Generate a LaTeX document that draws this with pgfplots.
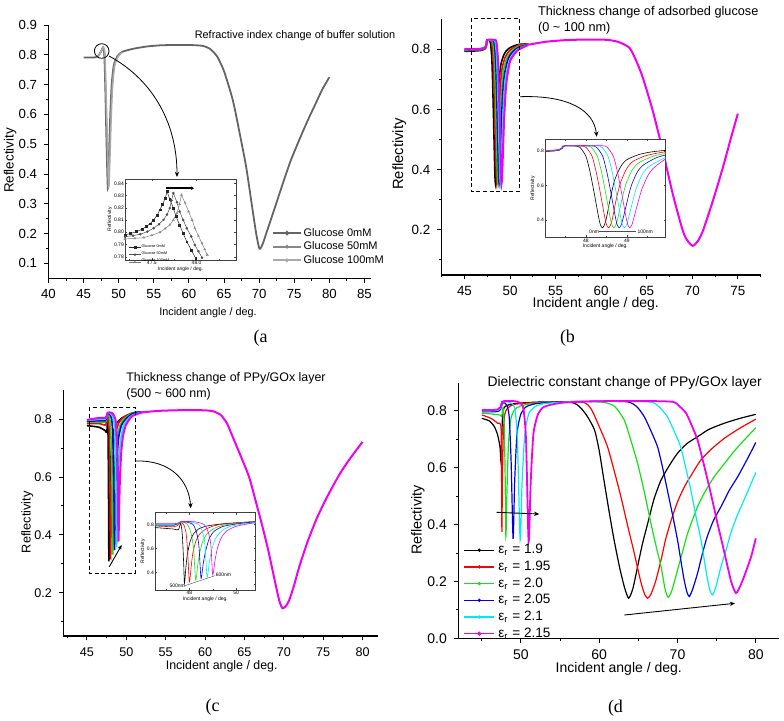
\documentclass[border=0pt]{standalone}
\usepackage{fontspec}
\setmainfont{Liberation Sans}
\newfontfamily\serifont{Liberation Serif}
\usepackage{pgfplots}
\usepackage{pgfplotstable}
\pgfplotsset{compat=1.18}
\usetikzlibrary{arrows.meta}

\definecolor{cK}{RGB}{0,0,0}
\definecolor{cR}{RGB}{255,0,0}
\definecolor{cG}{RGB}{20,225,20}
\definecolor{cB}{RGB}{0,0,225}
\definecolor{cC}{RGB}{0,235,235}
\definecolor{cM}{RGB}{240,0,240}
\definecolor{g0}{RGB}{100,100,100}
\definecolor{g1}{RGB}{135,135,135}
\definecolor{g2}{RGB}{170,170,170}

\pgfplotsset{
  /pgf/number format/assume math mode=true,
  panel/.style={
    scale only axis, anchor=south west,
    axis x line*=bottom, axis y line*=left,
    tick align=outside,
    major tick length=2.2pt, minor tick length=1.2pt,
    tick style={black, line width=0.5pt},
    axis line style={black, line width=0.6pt},
    every axis plot/.append style={smooth, tension=0.4},
    yticklabel style={/pgf/number format/.cd, fixed, fixed zerofill, precision=1},
  },
  smallinset/.style={
    scale only axis, anchor=south west,
    axis background/.style={fill=white},
    axis line style={line width=0.25pt, black!75},
    tick style={line width=0.2pt, black!75},
    major tick length=1pt, minor tick length=0.6pt,
    tick label style={font=\fontsize{2.5}{3}\selectfont, inner sep=0.4pt},
    label style={font=\fontsize{2.5}{3}\selectfont, inner sep=0.3pt},
  },
}

% ---------- panel (a) ----------
\pgfplotstableread{
x y
45 0.791
46 0.791
46.8 0.792
47.2 0.80
47.5 0.812
47.75 0.824
47.95 0.80
48.1 0.68
48.25 0.52
48.45 0.352
48.6 0.45
48.8 0.60
49.0 0.70
49.3 0.765
49.8 0.795
50.5 0.81
52 0.82
54 0.828
56 0.832
58 0.833
60 0.833
61 0.832
62 0.83
63 0.82
64 0.795
65 0.745
66.25 0.648
67.2 0.54
68.15 0.424
69 0.29
69.58 0.2
70.05 0.149
70.5 0.165
71 0.2
72 0.27
73.37 0.368
74.5 0.445
75.74 0.516
77 0.584
78.12 0.64
79 0.684
80 0.725
}\aZero
\pgfplotstableread{
x y
46.8 0.792
47.2 0.80
47.5 0.812
47.8 0.825
48.0 0.80
48.15 0.68
48.32 0.52
48.52 0.355
48.68 0.45
48.88 0.60
49.08 0.70
49.38 0.765
49.88 0.795
50.5 0.809
}\aFifty
\pgfplotstableread{
x y
46.8 0.792
47.2 0.80
47.5 0.812
47.85 0.826
48.05 0.80
48.2 0.68
48.38 0.52
48.58 0.358
48.75 0.45
48.95 0.60
49.15 0.70
49.45 0.765
49.95 0.795
50.5 0.808
}\aHundred
\pgfplotstableread{
x y
47.2 0.7978
47.26 0.799
47.33 0.8005
47.39 0.8025
47.44 0.8046
47.48 0.807
47.52 0.8101
47.56 0.814
47.59 0.8183
47.62 0.823
47.65 0.8279
47.67 0.8333
47.70 0.827
47.74 0.8197
47.77 0.813
47.81 0.806
47.85 0.799
47.89 0.7923
47.94 0.7855
47.99 0.7787
}\iaZero
\pgfplotstableread{
x y
47.2 0.7964
47.29 0.7972
47.37 0.7984
47.45 0.8005
47.52 0.8033
47.58 0.8065
47.63 0.8101
47.67 0.8145
47.70 0.8197
47.72 0.826
47.74 0.832
47.78 0.8245
47.81 0.8169
47.85 0.810
47.89 0.8033
47.94 0.7965
47.98 0.7896
48.02 0.7845
48.06 0.7792
}\iaFifty
\pgfplotstableread{
x y
47.2 0.7945
47.31 0.795
47.41 0.7956
47.5 0.7975
47.59 0.80
47.65 0.803
47.70 0.806
47.74 0.810
47.78 0.8156
47.81 0.823
47.83 0.8306
47.87 0.824
47.91 0.8169
47.95 0.810
47.98 0.8033
48.02 0.797
48.06 0.791
48.09 0.786
48.12 0.7814
}\iaHundred

% ---------- panel (b) ----------
\pgfplotstableread{
x y
45 0.793
46 0.794
46.8 0.796
47.2 0.80
47.35 0.805
47.42 0.815
47.48 0.83
47.7 0.83
47.85 0.822
48.0 0.77
48.1 0.68
48.2 0.56
48.3 0.43
48.35 0.375
48.4 0.355
48.45 0.37
48.5 0.41
48.6 0.53
48.7 0.63
48.85 0.71
49.0 0.75
49.3 0.78
49.6 0.795
50 0.805
50.5 0.812
51 0.816
52 0.818
}\bK
\pgfplotstableread{
x y
45 0.795
46 0.796
46.8 0.798
47.2 0.801
47.35 0.806
47.42 0.816
47.48 0.83
47.85 0.83
48.0 0.822
48.15 0.77
48.25 0.68
48.35 0.56
48.45 0.43
48.5 0.375
48.55 0.355
48.6 0.37
48.65 0.41
48.75 0.53
48.85 0.62
49.0 0.70
49.15 0.74
49.45 0.772
49.75 0.788
50 0.797
50.5 0.807
51 0.814
52 0.818
}\bR
\pgfplotstableread{
x y
45 0.796
46 0.797
46.8 0.799
47.2 0.802
47.35 0.807
47.42 0.817
47.48 0.83
47.98 0.83
48.13 0.822
48.28 0.77
48.38 0.68
48.48 0.56
48.58 0.43
48.63 0.375
48.68 0.355
48.73 0.37
48.78 0.41
48.88 0.52
48.98 0.61
49.13 0.69
49.28 0.73
49.58 0.765
49.88 0.783
50.5 0.802
51 0.81
52 0.817
}\bG
\pgfplotstableread{
x y
45 0.797
46 0.798
46.8 0.80
47.2 0.803
47.35 0.808
47.42 0.818
47.48 0.83
48.11 0.83
48.26 0.822
48.41 0.77
48.51 0.68
48.61 0.56
48.71 0.43
48.76 0.375
48.81 0.355
48.86 0.37
48.91 0.41
49.01 0.51
49.11 0.60
49.26 0.68
49.41 0.72
49.71 0.76
50 0.78
50.5 0.797
51 0.807
52 0.816
}\bB
\pgfplotstableread{
x y
45 0.798
46 0.799
46.8 0.801
47.2 0.804
47.35 0.809
47.42 0.819
47.48 0.83
48.24 0.83
48.39 0.822
48.54 0.77
48.64 0.68
48.74 0.56
48.84 0.43
48.89 0.375
48.94 0.355
48.99 0.37
49.04 0.41
49.14 0.505
49.24 0.59
49.39 0.67
49.54 0.71
49.84 0.75
50 0.765
50.5 0.79
51 0.803
52 0.815
}\bC
\pgfplotstableread{
x y
45 0.80
46 0.80
46.8 0.802
47.2 0.805
47.35 0.81
47.42 0.82
47.48 0.831
48.37 0.831
48.52 0.822
48.67 0.77
48.77 0.68
48.87 0.56
48.97 0.43
49.02 0.375
49.07 0.355
49.12 0.37
49.17 0.41
49.27 0.50
49.37 0.58
49.52 0.66
49.67 0.705
50 0.76
50.5 0.785
51 0.80
52 0.814
}\bM
\pgfplotstableread{
x y
52 0.815
54 0.825
56 0.83
58 0.832
60 0.832
61 0.83
62 0.823
63.1 0.805
63.8 0.765
64.57 0.706
65.67 0.595
66.77 0.462
67.87 0.318
68.97 0.196
69.5 0.163
70.06 0.147
70.6 0.162
71.16 0.196
72.26 0.296
73.36 0.407
74.2 0.5
75 0.586
}\bTail

% ---------- panel (c) ----------
\pgfplotstableread{
x y
45 0.778
46 0.775
46.6 0.772
47.31 0.761
47.53 0.755
47.63 0.808
47.7 0.711
47.76 0.461
47.79 0.308
47.85 0.433
47.91 0.544
48.03 0.655
48.17 0.717
48.39 0.761
48.75 0.786
49.46 0.805
50.81 0.822
52 0.826
}\cK
\pgfplotstableread{
x y
45 0.785
46.6 0.785
47.3 0.78
47.5 0.79
47.63 0.815
47.75 0.80
47.85 0.74
47.92 0.6
48.0 0.32
48.08 0.45
48.15 0.56
48.28 0.66
48.45 0.72
48.7 0.76
49.1 0.79
49.7 0.808
50.81 0.822
52 0.826
}\cR
\pgfplotstableread{
x y
45 0.79
46.6 0.79
47.3 0.79
47.5 0.80
47.63 0.818
47.8 0.815
47.95 0.79
48.08 0.72
48.18 0.6
48.27 0.335
48.36 0.46
48.45 0.57
48.6 0.67
48.8 0.73
49.1 0.77
49.5 0.795
50.1 0.81
50.81 0.822
52 0.826
}\cG
\pgfplotstableread{
x y
45 0.793
46.6 0.795
47.3 0.795
47.5 0.805
47.63 0.82
47.9 0.818
48.15 0.80
48.3 0.74
48.41 0.62
48.5 0.35
48.6 0.48
48.7 0.58
48.85 0.68
49.05 0.74
49.4 0.78
49.9 0.80
50.81 0.82
52 0.826
}\cB
\pgfplotstableread{
x y
45 0.796
46.6 0.80
47.3 0.80
47.5 0.808
47.63 0.822
48.0 0.82
48.4 0.80
48.56 0.74
48.67 0.63
48.76 0.36
48.86 0.49
48.96 0.59
49.12 0.68
49.35 0.74
49.7 0.78
50.2 0.80
50.81 0.815
52 0.825
}\cC
\pgfplotstableread{
x y
45 0.798
46.6 0.805
47.3 0.805
47.5 0.81
47.63 0.823
48.2 0.822
48.62 0.80
48.8 0.74
48.92 0.63
49.0 0.38
49.1 0.5
49.2 0.6
49.37 0.69
49.6 0.745
49.95 0.78
50.4 0.80
50.81 0.812
52 0.824
}\cM
\pgfplotstableread{
x y
52 0.824
54 0.829
56 0.831
58 0.832
60 0.831
61 0.828
62 0.815
62.8 0.785
63.5 0.74
64.5 0.675
65.6 0.60
66.5 0.51
67.3 0.428
68 0.35
68.57 0.278
69.4 0.175
69.84 0.146
70.3 0.155
70.7 0.175
71.3 0.225
71.97 0.29
73 0.375
74.08 0.45
75.1 0.51
76.2 0.567
77.2 0.615
78.3 0.66
79.2 0.693
80 0.722
}\cTail

% ---------- panel (d) ----------
\pgfplotstableread{
x y
45 0.774
45.95 0.765
46.6 0.745
47.02 0.716
47.32 0.674
47.45 0.622
47.55 0.70
47.65 0.78
47.85 0.812
48.3 0.82
49 0.825
50 0.828
52 0.831
54 0.832
56 0.832
57 0.825
57.7 0.809
58.5 0.78
59.4 0.733
60 0.66
60.6 0.557
61.3 0.44
61.9 0.346
62.6 0.25
63.2 0.182
63.75 0.141
64.3 0.175
64.9 0.252
65.5 0.33
66.2 0.405
67 0.49
67.9 0.557
69 0.61
70 0.651
71.2 0.685
72.6 0.71
74 0.735
76 0.757
78 0.774
80 0.788
}\dK
\pgfplotstableread{
x y
45 0.786
46.17 0.774
47.02 0.757
47.45 0.745
47.52 0.6
47.57 0.375
47.63 0.55
47.75 0.72
47.95 0.79
48.3 0.81
49 0.822
50 0.826
52 0.83
55 0.832
58 0.83
58.99 0.806
60 0.745
61.06 0.674
62 0.58
62.77 0.498
63.6 0.40
64.47 0.30
65.3 0.2
65.8 0.155
66.18 0.141
66.6 0.155
67.2 0.2
67.9 0.276
68.5 0.35
69.2 0.416
70 0.48
70.9 0.534
72 0.585
73 0.628
74.5 0.67
76 0.704
78 0.74
80 0.771
}\dR
\pgfplotstableread{
x y
45 0.792
46 0.79
47 0.787
47.4 0.785
47.55 0.78
47.7 0.81
47.85 0.76
47.97 0.6
48.08 0.358
48.2 0.5
48.4 0.68
48.7 0.77
49.2 0.805
50 0.818
52 0.828
55 0.832
58 0.833
60.64 0.83
62 0.815
63.2 0.768
64.0 0.70
64.9 0.616
65.8 0.51
66.6 0.405
67.3 0.32
67.9 0.252
68.4 0.175
68.81 0.144
69.3 0.17
70.0 0.24
70.6 0.30
71.3 0.37
72.56 0.463
73.6 0.52
74.7 0.569
76 0.615
77.2 0.657
78.6 0.70
80 0.741
}\dG
\pgfplotstableread{
x y
45 0.797
46 0.797
47 0.798
47.4 0.805
47.6 0.825
47.8 0.83
48.2 0.82
48.5 0.78
48.75 0.62
49.0 0.35
49.2 0.55
49.5 0.72
50 0.79
50.7 0.815
52 0.826
55 0.832
60 0.834
63.6 0.832
64.8 0.815
65.75 0.78
66.6 0.73
67.45 0.674
68.1 0.60
68.7 0.522
69.4 0.43
70.0 0.346
70.45 0.27
70.85 0.205
71.2 0.163
71.5 0.147
71.9 0.17
72.56 0.229
73.2 0.30
73.8 0.358
74.6 0.415
75.55 0.463
76.6 0.52
77.7 0.569
78.9 0.63
80 0.689
}\dB
\pgfplotstableread{
x y
45 0.80
46 0.80
47 0.802
47.4 0.81
47.6 0.83
48 0.832
48.6 0.83
49.2 0.81
49.55 0.70
49.9 0.345
50.15 0.55
50.5 0.72
51 0.79
51.8 0.815
53 0.826
56 0.832
60 0.834
64 0.834
66.8 0.83
67.8 0.81
68.7 0.78
69.55 0.73
70.4 0.674
71.05 0.60
71.7 0.522
72.35 0.43
73.0 0.346
73.45 0.27
73.85 0.205
74.15 0.168
74.48 0.153
74.9 0.18
75.55 0.252
76.2 0.31
76.8 0.37
77.6 0.43
78.5 0.487
80 0.583
}\dC
\pgfplotstableread{
x y
45 0.803
46 0.803
47 0.805
47.4 0.815
47.6 0.832
48 0.835
49 0.835
49.8 0.83
50.3 0.81
50.65 0.70
50.98 0.34
51.25 0.55
51.6 0.72
52.2 0.79
53 0.815
55 0.828
58 0.833
62 0.835
66 0.835
69.4 0.832
70.3 0.815
71.1 0.792
71.8 0.75
72.56 0.698
73.2 0.63
73.85 0.557
74.5 0.48
75.1 0.405
75.75 0.33
76.4 0.252
76.9 0.195
77.46 0.159
77.95 0.18
78.5 0.217
79.4 0.287
80 0.352
}\dM

\begin{document}
\begin{tikzpicture}
\path[use as bounding box] (0pt,0pt) rectangle (392pt,-360pt);

% ================= (a) =================
\begin{axis}[panel, at={(24.25pt,-139.15pt)}, width=161.5pt, height=126.65pt,
  xmin=40, xmax=86, ymin=0.05, ymax=0.9,
  xtick={40,45,...,85}, minor xtick={42.5,47.5,...,82.5},
  ytick={0.1,0.2,0.3,0.4,0.5,0.6,0.7,0.8,0.9},
  minor ytick={0.15,0.25,0.35,0.45,0.55,0.65,0.75,0.85},
  tick label style={font=\fontsize{6.6}{7}\selectfont},
  xlabel={Incident angle / deg.}, ylabel={Reflectivity},
  every axis x label/.style={at={(axis description cs:0.494,-0.137)}, anchor=center, font=\fontsize{5.4}{6}\selectfont},
  every axis y label/.style={at={(axis description cs:-0.119,0.465)}, anchor=center, rotate=90, font=\fontsize{6.7}{7}\selectfont},
  legend style={draw=none, fill=none, at={(axis description cs:0.691,0.2005)}, anchor=north west,
    font=\fontsize{5.5}{6}\selectfont, inner sep=0pt, row sep=1.6pt, column sep=0.9pt,
    nodes={inner sep=0pt, text height=4.1pt, text depth=1.1pt}},
  legend cell align=left,
  legend image code/.code={\draw[#1, line width=0.9pt] (0pt,0pt) -- (14pt,0pt); \fill[#1] (7pt,0pt) circle (0.6pt);},
]
\addplot[g0, line width=0.9pt] table {\aZero};
\addlegendentry{Glucose 0mM}
\addplot[g1, line width=0.7pt] table {\aFifty};
\addlegendentry{Glucose 50mM}
\addplot[g2, line width=0.7pt] table {\aHundred};
\addlegendentry{Glucose 100mM}
\end{axis}

\begin{axis}[smallinset, at={(62.5pt,-130pt)}, width=55.5pt, height=40.5pt,
  xmin=47.2, xmax=48.44, ymin=0.7773, ymax=0.8435,
  xtick={47.5,48.0}, minor xtick={47.25,47.75,48.25},
  ytick={0.78,0.79,0.80,0.81,0.82,0.83,0.84},
  xticklabel style={/pgf/number format/.cd, fixed, fixed zerofill, precision=1},
  yticklabel style={/pgf/number format/.cd, fixed, fixed zerofill, precision=2},
  xlabel={Incident angle / deg.}, ylabel={Reflectivity},
  legend style={draw=none, fill=none, at={(axis description cs:0.03,0.2)}, anchor=north west,
    font=\fontsize{1.9}{2}\selectfont, inner sep=0pt, row sep=0.3pt,
    nodes={inner sep=0.2pt}},
  legend cell align=left,
  legend image code/.code={\draw[mark repeat=2, mark phase=2, #1] plot coordinates {(0pt,0pt) (3pt,0pt) (6pt,0pt)};},
]
\addplot[black!85, line width=0.25pt, mark=square*, mark size=0.45pt] table {\iaZero};
\addlegendentry{Glucose 0mM}
\addplot[black!70, line width=0.25pt, mark=*, mark size=0.5pt] table {\iaFifty};
\addlegendentry{Glucose 50mM}
\addplot[black!50, line width=0.25pt, mark=triangle, mark size=0.6pt, mark options={line width=0.2pt}] table {\iaHundred};
\addlegendentry{Glucose 100mM}
\draw[line width=0.7pt, -{Stealth[length=1.5pt, width=1.8pt]}] (axis cs:47.66,0.836) -- (axis cs:47.97,0.836);
\end{axis}

% ================= (b) =================
\begin{axis}[panel, at={(220.85pt,-137.5pt)}, width=159.45pt, height=127.95pt,
  xmin=42.5, xmax=77.5, ymin=0.05, ymax=0.9,
  xtick={45,50,...,75}, minor xtick={42.5,47.5,...,77.5},
  ytick={0.2,0.4,0.6,0.8}, minor ytick={0.1,0.3,0.5,0.7},
  tick label style={font=\fontsize{6.7}{7}\selectfont},
  xlabel={Incident angle / deg.}, ylabel={Reflectivity},
  every axis x label/.style={at={(axis description cs:0.483,-0.111)}, anchor=center, font=\fontsize{7}{8}\selectfont},
  every axis y label/.style={at={(axis description cs:-0.133,0.473)}, anchor=center, rotate=90, font=\fontsize{7.4}{8}\selectfont},
]
\addplot[cK, line width=0.8pt] table {\bK};
\addplot[cR, line width=0.8pt] table {\bR};
\addplot[cG, line width=0.8pt] table {\bG};
\addplot[cB, line width=0.8pt] table {\bB};
\addplot[cC, line width=0.8pt] table {\bC};
\addplot[cM, line width=1pt] table {\bM};
\addplot[cM, line width=1pt] table {\bTail};
\end{axis}

\begin{axis}[smallinset, at={(272.5pt,-118.65pt)}, width=60.35pt, height=49pt,
  xmin=47, xmax=49.95, ymin=0.30, ymax=0.868,
  xtick={48,49}, minor xtick={47.5,48.5,49.5},
  ytick={0.4,0.6,0.8}, minor ytick={0.5,0.7},
  yticklabel style={/pgf/number format/.cd, fixed, fixed zerofill, precision=1},
  xlabel={Incident angle / deg.}, ylabel={Reflectivity},
  every axis plot/.append style={smooth, tension=0.4},
]
\addplot[cK, line width=0.3pt] table {\bK};
\addplot[cR, line width=0.3pt] table {\bR};
\addplot[cG, line width=0.3pt] table {\bG};
\addplot[cB, line width=0.3pt] table {\bB};
\addplot[cC, line width=0.3pt] table {\bC};
\addplot[cM, line width=0.3pt] table {\bM};
\draw[line width=0.2pt, black!70] (axis cs:48.32,0.333) -- (axis cs:49.22,0.333);
\node[font=\fontsize{2.5}{3}\selectfont, inner sep=0pt] at (axis cs:48.2,0.333) {0nm};
\node[font=\fontsize{2.5}{3}\selectfont, inner sep=0pt] at (axis cs:49.45,0.333) {100nm};
\end{axis}

% ================= (c) =================
\begin{axis}[panel, at={(31.65pt,-318pt)}, width=157.5pt, height=122.8pt,
  xmin=42, xmax=82, ymin=0.05, ymax=0.9,
  xtick={45,50,...,80}, minor xtick={42.5,47.5,...,77.5},
  ytick={0.2,0.4,0.6,0.8}, minor ytick={0.1,0.3,0.5,0.7},
  tick label style={font=\fontsize{6.3}{7}\selectfont},
  xlabel={Incident angle / deg.}, ylabel={Reflectivity},
  every axis x label/.style={at={(axis description cs:0.503,-0.125)}, anchor=center, font=\fontsize{6.2}{7}\selectfont},
  every axis y label/.style={at={(axis description cs:-0.114,0.463)}, anchor=center, rotate=90, font=\fontsize{6.4}{7}\selectfont},
]
\addplot[cK, line width=0.8pt] table {\cK};
\addplot[cR, line width=0.8pt] table {\cR};
\addplot[cG, line width=0.8pt] table {\cG};
\addplot[cB, line width=0.8pt] table {\cB};
\addplot[cC, line width=0.8pt] table {\cC};
\addplot[cM, line width=1pt] table {\cM};
\addplot[cM, line width=1pt] table {\cTail};
\end{axis}

\begin{axis}[smallinset, at={(77.5pt,-295pt)}, width=50.35pt, height=38.65pt,
  xmin=46.53, xmax=50.84, ymin=0.2525, ymax=0.897,
  xtick={48,50}, minor xtick={47,49},
  ytick={0.4,0.6,0.8}, minor ytick={0.3,0.5,0.7},
  yticklabel style={/pgf/number format/.cd, fixed, fixed zerofill, precision=1},
  xlabel={Incident angle / deg.}, ylabel={Reflectivity},
  every axis plot/.append style={smooth, tension=0.4},
]
\addplot[cK, line width=0.3pt] table {\cK};
\addplot[cR, line width=0.3pt] table {\cR};
\addplot[cG, line width=0.3pt] table {\cG};
\addplot[cB, line width=0.3pt] table {\cB};
\addplot[cC, line width=0.3pt] table {\cC};
\addplot[cM, line width=0.3pt] table {\cM};
\draw[line width=0.2pt, black!70] (axis cs:47.77,0.286) -- (axis cs:49.1,0.372);
\node[font=\fontsize{2.5}{3}\selectfont, inner sep=0pt] at (axis cs:47.48,0.286) {500nm};
\node[font=\fontsize{2.5}{3}\selectfont, inner sep=0pt] at (axis cs:49.46,0.378) {600nm};
\end{axis}

% ================= (d) =================
\begin{axis}[panel, at={(229.15pt,-319.15pt)}, width=160.5pt, height=127.9pt,
  xmin=42, xmax=83, ymin=0, ymax=0.9,
  xtick={50,60,70,80}, minor xtick={45,55,65,75},
  ytick={0,0.2,0.4,0.6,0.8}, minor ytick={0.1,0.3,0.5,0.7},
  tick label style={font=\fontsize{7}{8}\selectfont},
  xlabel={Incident angle / deg.}, ylabel={Reflectivity},
  every axis x label/.style={at={(axis description cs:0.5,-0.121)}, anchor=center, font=\fontsize{7}{8}\selectfont},
  every axis y label/.style={at={(axis description cs:-0.126,0.462)}, anchor=center, rotate=90, font=\fontsize{7.2}{8}\selectfont},
  legend style={draw=none, fill=none, at={(axis description cs:0.0156,0.3726)}, anchor=north west,
    font=\fontsize{6.8}{7}\selectfont, inner sep=0pt, row sep=1.55pt, column sep=1.7pt,
    nodes={inner sep=0pt, text height=5.1pt, text depth=1.7pt}},
  legend cell align=left,
  legend image code/.code={\draw[#1, line width=0.6pt] (0pt,0pt) -- (15pt,0pt); \fill[#1] (7.5pt,0pt) circle (0.5pt);},
]
\addplot[cK, line width=0.6pt] table {\dK};
\addlegendentry{ε\textsubscript{r} = 1.9}
\addplot[cR, line width=0.6pt] table {\dR};
\addlegendentry{ε\textsubscript{r} = 1.95}
\addplot[cG, line width=0.6pt] table {\dG};
\addlegendentry{ε\textsubscript{r} = 2.0}
\addplot[cB, line width=0.6pt] table {\dB};
\addlegendentry{ε\textsubscript{r} = 2.05}
\addplot[cC, line width=0.6pt] table {\dC};
\addlegendentry{ε\textsubscript{r} = 2.1}
\addplot[cM, line width=0.9pt] table {\dM};
\addlegendentry{ε\textsubscript{r} = 2.15}
\end{axis}

% ================= annotations (pixel grid) =================
\begin{scope}[x=0.5pt, y=-0.5pt]
\node[font=\fontsize{5.45}{6}\selectfont, anchor=base, inner sep=0pt] at (295,38) {Refractive index change of buffer solution};
\node[font=\fontsize{6.35}{7}\selectfont, anchor=base west, inner sep=0pt] at (537.7,15.6) {Thickness change of adsorbed glucose};
\node[font=\fontsize{6.35}{7}\selectfont, anchor=base west, inner sep=0pt] at (537.7,31.6) {(0 \textasciitilde{} 100 nm)};
\node[font=\fontsize{6.2}{7}\selectfont, anchor=base west, inner sep=0pt] at (126,381.7) {Thickness change of PPy/GOx layer};
\node[font=\fontsize{6.2}{7}\selectfont, anchor=base west, inner sep=0pt] at (126,397.7) {(500 \textasciitilde{} 600 nm)};
\node[font=\fontsize{6.95}{8}\selectfont, anchor=base, inner sep=0pt] at (624.7,386.7) {Dielectric constant change of PPy/GOx layer};

\node[font=\serifont\fontsize{9}{10}\selectfont] at (260.5,338) {(a};
\node[font=\serifont\fontsize{9}{10}\selectfont] at (567.5,338) {(b};
\node[font=\serifont\fontsize{9}{10}\selectfont] at (212.5,706.7) {(c};
\node[font=\serifont\fontsize{9}{10}\selectfont] at (615.5,708.3) {(d};

% (a) circle and arrow
\draw[line width=0.4pt] (101.7,51) circle (3.65pt);
\draw[line width=0.4pt, -{Stealth[length=2.6pt, width=2.2pt]}] (109,56) .. controls (150,78) and (177,120) .. (177,177);

% (b) dashed box and arrow
\draw[line width=0.45pt, dash pattern=on 2pt off 1.3pt] (471.7,18.3) rectangle (519.3,191.7);
\draw[line width=0.4pt, -{Stealth[length=2.6pt, width=2.2pt]}] (520,96.7) .. controls (568,95) and (594,110) .. (596.7,136.7);

% (c) dashed box and arrows
\draw[line width=0.45pt, dash pattern=on 2pt off 1.3pt] (89.3,407.3) rectangle (135,573.3);
\draw[line width=0.4pt, -{Stealth[length=2.6pt, width=2.2pt]}] (136,461) .. controls (170,460) and (189,480) .. (190.7,508.3);
\draw[line width=0.45pt, -{Stealth[length=2.4pt, width=2pt]}] (109.3,566.7) -- (121.7,545);

% (d) arrows
\draw[line width=0.45pt, -{Stealth[length=2.6pt, width=2.2pt]}] (496.7,512.3) -- (539.3,514);
\draw[line width=0.45pt, -{Stealth[length=2.6pt, width=2.2pt]}] (624.3,615) -- (735,603.3);
\end{scope}
\end{tikzpicture}
\end{document}
